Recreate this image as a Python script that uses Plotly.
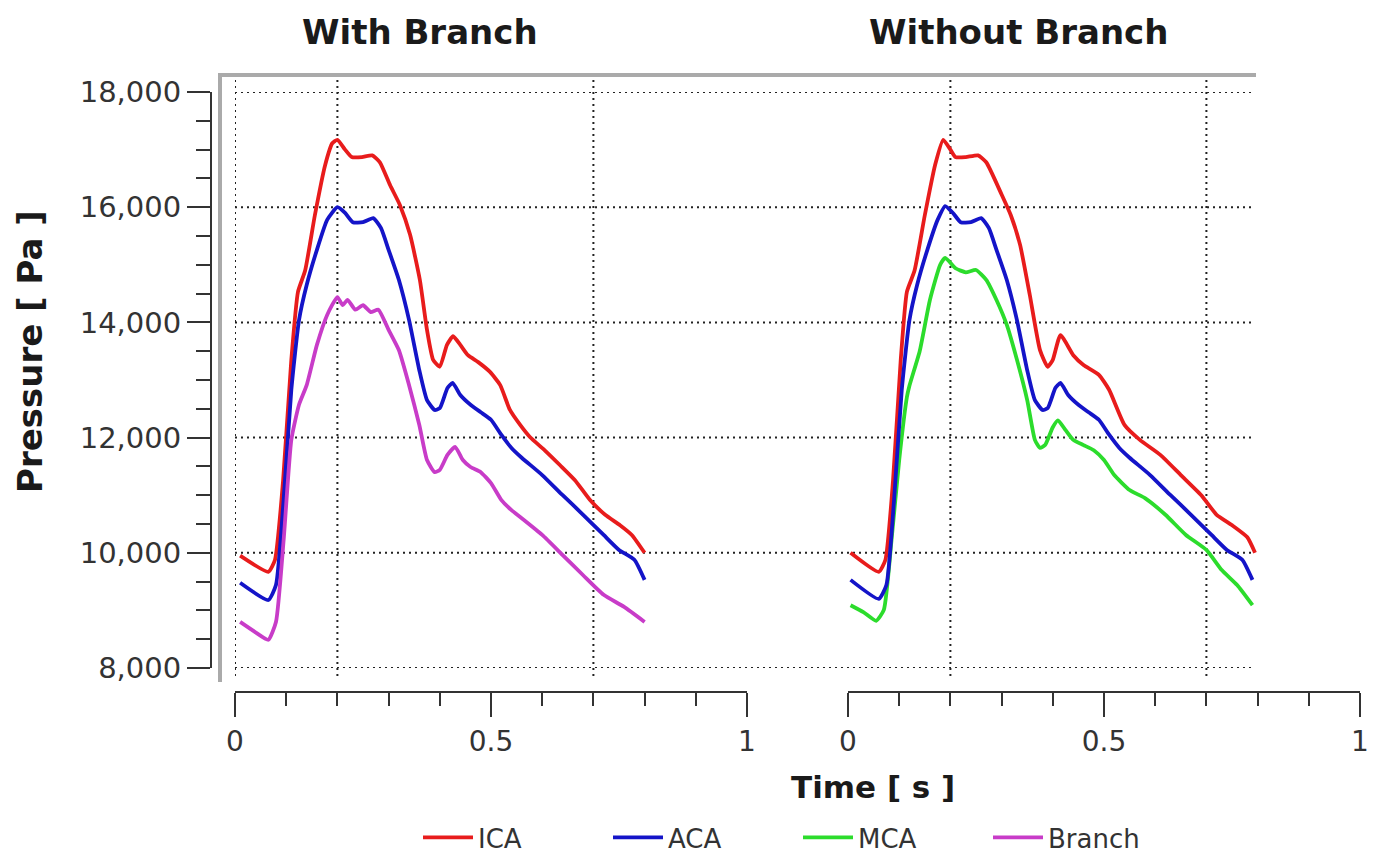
import plotly.graph_objects as go

OFF = 8                     # page body margin of the browser
W, H = 1377 - OFF, 861 - OFF

# ---------------- data ----------------
t_ica_l = [0.01, 0.065, 0.078, 0.094, 0.11, 0.123, 0.137, 0.156, 0.176, 0.19, 0.2, 0.215, 0.228, 0.248, 0.268,
           0.283, 0.303, 0.322, 0.342, 0.361, 0.375, 0.387, 0.4, 0.414, 0.426, 0.44, 0.455, 0.475, 0.498, 0.518,
           0.537, 0.557, 0.576, 0.605, 0.635, 0.664, 0.693, 0.723, 0.752, 0.775, 0.8]
ica_l = [9950, 9670, 9875, 11260, 13350, 14530, 14900, 15860, 16730, 17110, 17170, 17000, 16870, 16870, 16900,
         16780, 16380, 16040, 15520, 14740, 13870, 13350, 13230, 13610, 13760, 13610, 13430, 13310, 13140, 12910,
         12480, 12220, 12010, 11780, 11520, 11260, 10920, 10660, 10480, 10310, 10000]

t_aca_l = [0.01, 0.065, 0.08, 0.095, 0.11, 0.125, 0.14, 0.16, 0.18, 0.2, 0.215, 0.23, 0.25, 0.27, 0.285, 0.3,
           0.32, 0.34, 0.36, 0.375, 0.39, 0.4, 0.415, 0.425, 0.44, 0.46, 0.48, 0.5, 0.52, 0.54, 0.56, 0.6, 0.64,
           0.68, 0.72, 0.75, 0.78, 0.8]
aca_l = [9480, 9180, 9440, 10920, 12830, 14040, 14650, 15260, 15780, 16000, 15900, 15740, 15740, 15810, 15640,
         15260, 14740, 14040, 13170, 12650, 12480, 12510, 12860, 12950, 12740, 12570, 12440, 12310, 12050, 11820,
         11650, 11350, 11000, 10660, 10310, 10050, 9880, 9530]

t_br_l = [0.01, 0.04, 0.065, 0.08, 0.095, 0.11, 0.125, 0.14, 0.16, 0.18, 0.2, 0.21, 0.22, 0.235, 0.25, 0.265,
          0.28, 0.3, 0.32, 0.34, 0.36, 0.375, 0.39, 0.4, 0.415, 0.43, 0.445, 0.46, 0.48, 0.5, 0.52, 0.54, 0.56,
          0.6, 0.64, 0.68, 0.72, 0.76, 0.8]
br_l = [8800, 8620, 8490, 8800, 10220, 11960, 12570, 12910, 13610, 14130, 14440, 14300, 14390, 14220, 14300,
        14180, 14220, 13870, 13520, 12910, 12220, 11610, 11400, 11440, 11700, 11840, 11610, 11490, 11400, 11210,
        10920, 10740, 10600, 10310, 9960, 9610, 9270, 9060, 8800]

t_ica_r = [0.005, 0.06, 0.073, 0.088, 0.103, 0.115, 0.13, 0.15, 0.17, 0.186, 0.2, 0.21, 0.23, 0.254, 0.27,
           0.3, 0.318, 0.336, 0.355, 0.375, 0.39, 0.4, 0.415, 0.44, 0.46, 0.49, 0.51, 0.54, 0.57, 0.61, 0.65,
           0.69, 0.72, 0.75, 0.78, 0.795]
ica_r = [10000, 9670, 9875, 11260, 13350, 14530, 14900, 15860, 16730, 17170, 17000, 16870, 16870, 16900, 16780,
         16220, 15860, 15350, 14480, 13520, 13230, 13350, 13780, 13430, 13260, 13090, 12830, 12220, 11960, 11700,
         11350, 11000, 10660, 10480, 10270, 10000]

t_aca_r = [0.005, 0.06, 0.075, 0.09, 0.105, 0.12, 0.135, 0.155, 0.175, 0.19, 0.205, 0.22, 0.24, 0.26, 0.275,
           0.29, 0.31, 0.33, 0.35, 0.365, 0.38, 0.39, 0.405, 0.415, 0.43, 0.45, 0.47, 0.49, 0.51, 0.53, 0.55,
           0.59, 0.63, 0.67, 0.71, 0.74, 0.77, 0.79]
aca_r = [9530, 9200, 9440, 10920, 12830, 14040, 14650, 15260, 15780, 16020, 15900, 15740, 15740, 15810, 15640,
         15260, 14740, 14040, 13170, 12650, 12480, 12510, 12860, 12950, 12740, 12570, 12440, 12310, 12050, 11820,
         11650, 11350, 11000, 10660, 10310, 10050, 9880, 9530]

t_mca_r = [0.005, 0.03, 0.055, 0.07, 0.085, 0.1, 0.115, 0.12, 0.14, 0.16, 0.18, 0.19, 0.21, 0.23, 0.25, 0.27,
           0.29, 0.31, 0.33, 0.35, 0.365, 0.375, 0.385, 0.4, 0.41, 0.425, 0.44, 0.46, 0.48, 0.5, 0.52, 0.55, 0.58,
           0.62, 0.66, 0.7, 0.73, 0.76, 0.79]
mca_r = [9090, 8970, 8820, 9010, 10220, 11610, 12700, 12900, 13500, 14390, 15000, 15120, 14940, 14870, 14910,
         14740, 14390, 13960, 13350, 12650, 11960, 11820, 11870, 12180, 12300, 12130, 11960, 11870, 11780, 11610,
         11350, 11090, 10950, 10660, 10310, 10050, 9700, 9440, 9090]

panel_titles = ["With Branch", "Without Branch"]
y_major = [8000, 10000, 12000, 14000, 16000, 18000]
x_grid_left = [0, 0.2, 0.7]
x_grid_right = [0.2, 0.7]

colors = {"ICA": "#e81c1c", "ACA": "#1414c8", "MCA": "#2cdc2c", "Branch": "#c83cc8"}

# ---------------- helpers (screen pixel -> paper) ----------------
def px(x):
    return (x - OFF) / W

def py(y):
    return 1 - (y - OFF) / H

fig = go.Figure()

def add(t, v, name, xa, show):
    fig.add_trace(go.Scatter(x=t, y=v, name=name, mode="lines", xaxis=xa, yaxis="y",
                             line=dict(color=colors[name], width=3.8, shape="spline", smoothing=0.5),
                             showlegend=show))

add(t_ica_l, ica_l, "ICA", "x", True)
add(t_aca_l, aca_l, "ACA", "x", True)
add(t_mca_r, mca_r, "MCA", "x2", True)
add(t_br_l, br_l, "Branch", "x", True)
add(t_ica_r, ica_r, "ICA", "x2", False)
add(t_aca_r, aca_r, "ACA", "x2", False)

font_fam = "DejaVu Sans"
axis_col = "#333333"

xcommon = dict(range=[0, 1], anchor="free", position=py(692), showgrid=False, zeroline=False,
               showline=True, linecolor=axis_col, linewidth=2,
               ticks="outside", ticklen=24, tickwidth=2, tickcolor=axis_col,
               tick0=0, dtick=0.5, tickfont=dict(family=font_fam, size=28, color="#333"),
               minor=dict(dtick=0.1, ticks="outside", ticklen=13, tickwidth=2, tickcolor=axis_col, showgrid=False),
               automargin=False, fixedrange=True)

fig.update_layout(
    width=W, height=H, autosize=False,
    margin=dict(l=0, r=0, t=0, b=0, pad=0),
    paper_bgcolor="white", plot_bgcolor="rgba(0,0,0,0)",
    xaxis=dict(domain=[px(235), px(747)], **xcommon),
    xaxis2=dict(domain=[px(848), px(1360)], **xcommon),
    yaxis=dict(domain=[py(668), py(92)], range=[8000, 18000], anchor="free", position=px(211),
               showgrid=False, zeroline=False, showline=True, linecolor=axis_col, linewidth=2,
               ticks="outside", ticklen=23, tickwidth=2, tickcolor=axis_col,
               tickvals=y_major, tickformat=",d", automargin=False,
               tickfont=dict(family=font_fam, size=29, color="#333"),
               minor=dict(dtick=500, ticks="outside", ticklen=14, tickwidth=2, tickcolor=axis_col, showgrid=False)),
    showlegend=True,
    legend=dict(orientation="h", x=px(418), y=0, xanchor="left", yanchor="bottom",
                font=dict(family=font_fam, size=26, color="#333"), itemwidth=50,
                entrywidth=125, bgcolor="rgba(0,0,0,0)"),
)

shapes = []
dash = "2px,4px"
for v in y_major:
    shapes.append(dict(type="line", xref="paper", yref="y", x0=px(235), x1=px(1255), y0=v, y1=v,
                       line=dict(color="#222", width=2, dash=dash), layer="below"))
for v in x_grid_left:
    shapes.append(dict(type="line", xref="x", yref="paper", x0=v, x1=v, y0=py(676), y1=py(78),
                       line=dict(color="#222", width=2, dash=dash), layer="below"))
for v in x_grid_right:
    shapes.append(dict(type="line", xref="x2", yref="paper", x0=v, x1=v, y0=py(676), y1=py(78),
                       line=dict(color="#222", width=2, dash=dash), layer="below"))
# frame (grey top and left edges)
shapes.append(dict(type="line", xref="paper", yref="paper", x0=px(219), x1=px(1256), y0=py(75), y1=py(75),
                   line=dict(color="#aaaaaa", width=4)))
shapes.append(dict(type="line", xref="paper", yref="paper", x0=px(220), x1=px(220), y0=py(73), y1=py(682),
                   line=dict(color="#aaaaaa", width=4)))
fig.update_layout(shapes=shapes)

ann = []
ann.append(dict(text="<b>%s</b>" % panel_titles[0], x=px(420), y=py(32), xref="paper", yref="paper",
                showarrow=False, xanchor="center", yanchor="middle",
                font=dict(family=font_fam, size=34, color="#1a1a1a")))
ann.append(dict(text="<b>%s</b>" % panel_titles[1], x=px(1018), y=py(32), xref="paper", yref="paper",
                showarrow=False, xanchor="center", yanchor="middle",
                font=dict(family=font_fam, size=34, color="#1a1a1a")))
ann.append(dict(text="<b>Time [ s ]</b>", x=px(873), y=py(787), xref="paper", yref="paper",
                showarrow=False, xanchor="center", yanchor="middle",
                font=dict(family=font_fam, size=31, color="#1a1a1a")))
ann.append(dict(text="<b>Pressure [ Pa ]</b>", x=px(30), y=py(352), xref="paper", yref="paper",
                showarrow=False, xanchor="center", yanchor="middle", textangle=-90,
                font=dict(family=font_fam, size=34, color="#1a1a1a")))
fig.update_layout(annotations=ann)

fig.write_html("out.html")
